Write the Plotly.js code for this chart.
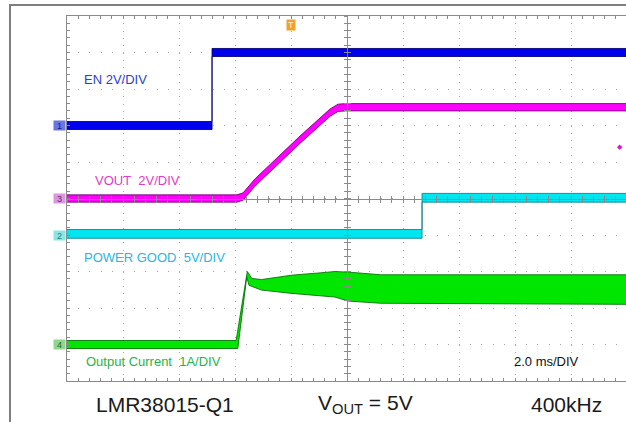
<!DOCTYPE html>
<html>
<head>
<meta charset="utf-8">
<script src="https://cdn.plot.ly/plotly-3.0.1.min.js"></script>
<style>
  html, body { margin: 0; padding: 0; background: #ffffff; overflow: hidden; }
  #chart { width: 626px; height: 422px; }
</style>
</head>
<body>
<div id="chart"></div>
<script>
// ---------------- Data (read from the scope capture) ----------------
// Time in ms from the left edge of the screen (2 ms/div, 10 divisions)
const enTime   = [0, 5.18, 5.18, 20];
const enVolts  = [0, 0, 4.0, 4.0];                 // EN, 2 V/div

const voutTime  = [0, 6.07, 6.29, 6.46, 6.71, 8.32, 9.39, 9.68, 9.96, 20];
const voutVolts = [0, 0, 0.11, 0.44, 0.87, 3.22, 4.70, 4.97, 5.0, 5.0];   // VOUT, 2 V/div

const pgTime   = [0, 12.68, 12.68, 20];
const pgVolts  = [0.15, 0.15, 5.1, 5.1];           // POWER GOOD, 5 V/div

// Output current ripple envelope (A), 1 A/div
const iHiTime = [0, 6.04, 6.44, 6.6, 6.95, 8.03, 9.0, 9.57, 10.1, 11.2, 20];
const iHi     = [0.11, 0.11, 2.0, 1.81, 1.78, 1.90, 1.96, 2.0, 1.98, 1.91, 1.91];
const iLoTime = [0, 6.10, 6.42, 6.5, 6.95, 8.03, 9.57, 10.04, 11.2, 20];
const iLo     = [-0.11, -0.11, 1.85, 1.62, 1.49, 1.40, 1.30, 1.19, 1.13, 1.10];

const channelLabels = ["EN 2V/DIV", "VOUT\u00a0\u00a02V/DIV", "POWER GOOD\u00a0\u00a05V/DIV", "Output Current\u00a0\u00a01A/DIV"];
const timebaseLabel = "2.0 ms/DIV";
const captionLabels = ["LMR38015-Q1", "V<sub>OUT</sub> = 5V", "400kHz"];

// ---------------- Scope channel settings ----------------
// offset in divisions from screen centre, scale in units/div, trace noise half-width in div
const chEN   = {offset: 2,  scale: 2, noise: 0.11};
const chVOUT = {offset: 0,  scale: 2, noise: 0.10};
const chPG   = {offset: -1, scale: 5, noise: 0.12};
const chI    = {offset: -4, scale: 1};

function toDiv(vals, ch, shift) { return vals.map(v => ch.offset + v / ch.scale + shift); }

function band(t, vals, ch, core, edge) {
  return [
    {x: t, y: toDiv(vals, ch, -ch.noise), mode: 'lines', line: {color: edge, width: 1}, hoverinfo: 'skip', showlegend: false},
    {x: t, y: toDiv(vals, ch, ch.noise), mode: 'lines', line: {color: edge, width: 1}, fill: 'tonexty', fillcolor: core, hoverinfo: 'skip', showlegend: false}
  ];
}

// invisible traces so that the centre graticule axes get drawn
const centreHolders = [
  {x: [10], y: [0], xaxis: 'x2', yaxis: 'y2', mode: 'markers', marker: {opacity: 0}, hoverinfo: 'skip', showlegend: false},
  {x: [10], y: [0], xaxis: 'x3', yaxis: 'y3', mode: 'markers', marker: {opacity: 0}, hoverinfo: 'skip', showlegend: false}
];

const traces = [].concat(
  centreHolders,
  band(enTime, enVolts, chEN, '#0000f0', 'rgba(0,0,110,0.85)'),
  band(voutTime, voutVolts, chVOUT, '#ff00ff', 'rgba(110,0,110,0.85)'),
  band(pgTime, pgVolts, chPG, '#00e6f0', 'rgba(0,120,130,0.8)'),
  [
    {x: iLoTime, y: toDiv(iLo, chI, 0), mode: 'lines', line: {color: 'rgba(0,110,0,0.85)', width: 1}, hoverinfo: 'skip', showlegend: false},
    {x: iHiTime, y: toDiv(iHi, chI, 0), mode: 'lines', line: {color: 'rgba(0,110,0,0.85)', width: 1}, fill: 'tonexty', fillcolor: '#00e600', hoverinfo: 'skip', showlegend: false}
  ]
);

// ---------------- Layout ----------------
const W = 626, H = 422, ML = 67, MT = 16, MB = 41, MR = 0;
const plotW = W - ML - MR, plotH = H - MT - MB;
const pxPerDivX = 28;                  // 2 ms per 56 px
const xMax = plotW / pxPerDivX;        // ms visible on screen
const GRAY = '#8a8a8a';

const minorX = {dtick: 0.4, tick0: 0, ticks: 'inside', ticklen: 3, tickcolor: GRAY, tickwidth: 1, showgrid: false};
const minorY = {dtick: 0.2, tick0: 0, ticks: 'inside', ticklen: 3, tickcolor: GRAY, tickwidth: 1, showgrid: false};

function centreAxis(base, dir, minor) {
  return Object.assign({}, base, {
    anchor: 'free', position: 0.5, showline: true, linecolor: GRAY, linewidth: 1,
    ticks: dir, ticklen: 3, tickcolor: GRAY, tickwidth: 1,
    minor: Object.assign({}, minor, {ticks: dir}),
    showgrid: false, zeroline: false, showticklabels: false, fixedrange: true
  });
}

const xBase = {range: [0, xMax], dtick: 2, tick0: 0};
const yBase = {range: [-5, 5], dtick: 1, tick0: 0};

const labelFont = {family: 'Arial, "Liberation Sans", sans-serif', size: 13};
const capFont = {family: 'Arial, "Liberation Sans", sans-serif', size: 21, color: '#1a1a1a'};
const tagFont = {family: 'Arial, "Liberation Sans", sans-serif', size: 9};

function pxX(px) { return (px - ML) / plotW; }
function pxY(py) { return (H - MB - py) / plotH; }

const annotations = [
  {x: 0.54, y: 3.26, xref: 'x', yref: 'y', text: channelLabels[0], showarrow: false, xanchor: 'left', yanchor: 'middle', font: Object.assign({}, labelFont, {color: '#2c3fc8'})},
  {x: 0.93, y: 0.50, xref: 'x', yref: 'y', text: channelLabels[1], showarrow: false, xanchor: 'left', yanchor: 'middle', font: Object.assign({}, labelFont, {color: '#e23cc6'})},
  {x: 0.54, y: -1.62, xref: 'x', yref: 'y', text: channelLabels[2], showarrow: false, xanchor: 'left', yanchor: 'middle', font: Object.assign({}, labelFont, {color: '#2cb4e4'})},
  {x: 0.61, y: -4.46, xref: 'x', yref: 'y', text: channelLabels[3], showarrow: false, xanchor: 'left', yanchor: 'middle', font: Object.assign({}, labelFont, {color: '#1fb54a'})},
  {x: 15.9, y: -4.46, xref: 'x', yref: 'y', text: timebaseLabel, showarrow: false, xanchor: 'left', yanchor: 'middle', font: Object.assign({}, labelFont, {color: '#111111'})},
  {x: pxX(164.5), y: pxY(404), xref: 'paper', yref: 'paper', text: captionLabels[0], showarrow: false, xanchor: 'center', yanchor: 'middle', font: capFont},
  {x: pxX(365), y: pxY(404), xref: 'paper', yref: 'paper', text: captionLabels[1], showarrow: false, xanchor: 'center', yanchor: 'middle', font: capFont},
  {x: pxX(566), y: pxY(404), xref: 'paper', yref: 'paper', text: captionLabels[2], showarrow: false, xanchor: 'center', yanchor: 'middle', font: capFont},
  // channel ground markers
  {x: 0, y: chEN.offset, xref: 'paper', yref: 'y', text: '1', showarrow: false, xanchor: 'right', yanchor: 'middle', xshift: -1, bgcolor: '#6a76e2', font: Object.assign({}, tagFont, {color: '#1a1a7a'}), borderpad: 0, width: 11, height: 9},
  {x: 0, y: chVOUT.offset, xref: 'paper', yref: 'y', text: '3', showarrow: false, xanchor: 'right', yanchor: 'middle', xshift: -1, bgcolor: '#dc96de', font: Object.assign({}, tagFont, {color: '#6a2a6a'}), borderpad: 0, width: 11, height: 9},
  {x: 0, y: chPG.offset, xref: 'paper', yref: 'y', text: '2', showarrow: false, xanchor: 'right', yanchor: 'middle', xshift: -1, bgcolor: '#88e6e6', font: Object.assign({}, tagFont, {color: '#2a7a7a'}), borderpad: 0, width: 11, height: 9},
  {x: 0, y: chI.offset, xref: 'paper', yref: 'y', text: '4', showarrow: false, xanchor: 'right', yanchor: 'middle', xshift: -1, bgcolor: '#8ed88e', font: Object.assign({}, tagFont, {color: '#2a6a2a'}), borderpad: 0, width: 11, height: 9},
  // trigger position marker
  {x: 8, y: 1, xref: 'x', yref: 'paper', text: 'T', showarrow: false, xanchor: 'center', yanchor: 'top', yshift: -3, bgcolor: '#f2a22a', font: Object.assign({}, tagFont, {color: '#fff0c8'}), borderpad: 0, width: 8, height: 10},
  // trigger level marker
  {x: 1, y: 1.42, xref: 'paper', yref: 'y', text: '\u25C6', showarrow: false, xanchor: 'right', yanchor: 'middle', xshift: -1, font: {family: 'DejaVu Sans', size: 7, color: '#d020c0'}}
];

const shapes = [
  {type: 'line', xref: 'paper', yref: 'paper', x0: pxX(10), x1: pxX(10), y0: pxY(4), y1: pxY(H + 2), line: {color: '#7f7f7f', width: 2}, layer: 'above'},
  {type: 'line', xref: 'paper', yref: 'paper', x0: pxX(9), x1: pxX(W + 2), y0: pxY(5), y1: pxY(5), line: {color: '#7f7f7f', width: 2}, layer: 'above'}
];

const layout = {
  width: W, height: H,
  margin: {l: ML, r: MR, t: MT, b: MB, pad: 0},
  paper_bgcolor: '#ffffff', plot_bgcolor: '#ffffff',
  showlegend: false,
  xaxis: Object.assign({}, xBase, {
    showgrid: true, gridcolor: '#a6a6a6', gridwidth: 1, griddash: '1px,6.3px',
    zeroline: false, showline: true, linecolor: GRAY, linewidth: 1, mirror: 'allticks',
    ticks: 'inside', ticklen: 3, tickcolor: GRAY, minor: minorX,
    showticklabels: false, fixedrange: true
  }),
  yaxis: Object.assign({}, yBase, {
    showgrid: true, gridcolor: '#a6a6a6', gridwidth: 1, griddash: '1px,10.2px',
    zeroline: false, showline: true, linecolor: GRAY, linewidth: 1, mirror: false,
    ticks: 'inside', ticklen: 3, tickcolor: GRAY, minor: minorY,
    showticklabels: false, fixedrange: true
  }),
  xaxis2: centreAxis(Object.assign({overlaying: 'x'}, xBase), 'inside', minorX),
  xaxis3: centreAxis(Object.assign({overlaying: 'x'}, xBase), 'outside', minorX),
  yaxis2: centreAxis(Object.assign({overlaying: 'y'}, yBase), 'inside', minorY),
  yaxis3: centreAxis(Object.assign({overlaying: 'y'}, yBase), 'outside', minorY),
  annotations: annotations,
  shapes: shapes
};

Plotly.newPlot('chart', traces, layout, {staticPlot: true, displayModeBar: false});
</script>
</body>
</html>
